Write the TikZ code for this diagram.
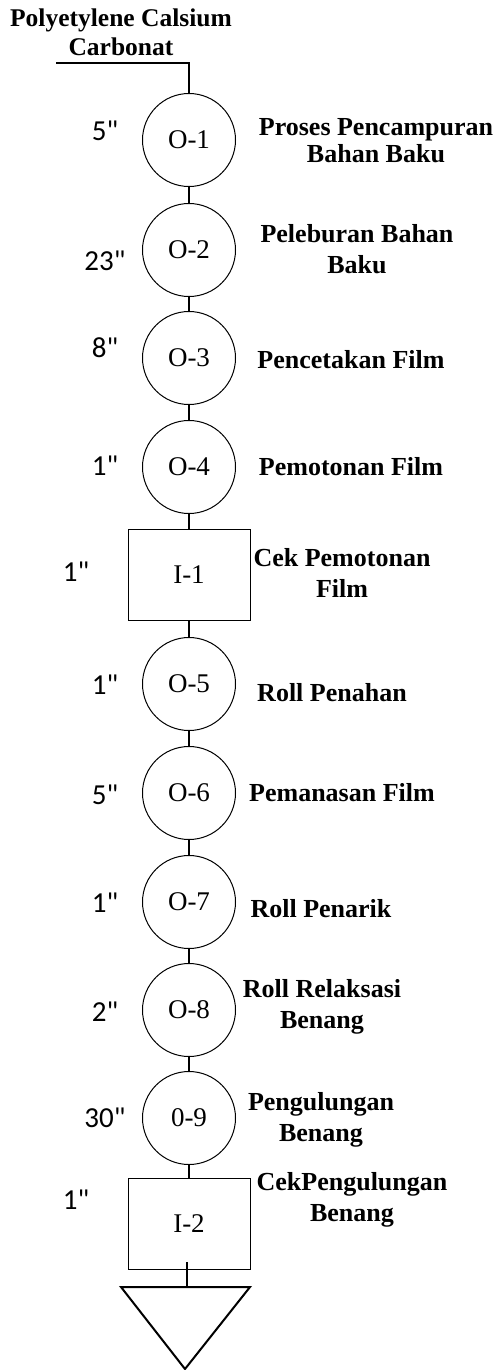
\documentclass[tikz,border=0pt]{standalone}
\usepackage{fontspec}
\setmainfont{Liberation Serif}
\newfontfamily\timefont{Carlito}
\usetikzlibrary{positioning}

\tikzset{
  opr/.style={draw,circle,line width=1pt,minimum size=93pt,inner sep=0pt,font=\fontsize{27}{30}\selectfont},
  insp/.style={draw,rectangle,line width=1pt,minimum width=122pt,minimum height=91pt,inner sep=0pt,font=\fontsize{27}{30}\selectfont},
  desc/.style={align=center,inner sep=0pt,font=\bfseries\fontsize{26}{31}\selectfont},
  tm/.style={inner sep=0pt,font=\timefont\fontsize{29}{32}\selectfont},
  flow/.style={line width=1.3pt}
}

\begin{document}
\begin{tikzpicture}[x=1pt,y=-1pt]
\useasboundingbox (0,0) rectangle (497,1370);
% raw material
\node[desc,font=\bfseries\fontsize{25.5}{29}\selectfont] (src) at (121,32) {Polyetylene Calsium\\Carbonat};
\coordinate (feed) at (56,63);

% operations and inspections
\node[opr] (o1) at (189,140) {O-1};
\node[opr] (o2) at (189,250) {O-2};
\node[opr] (o3) at (189,358) {O-3};
\node[opr] (o4) at (189,467) {O-4};
\node[insp] (i1) at (189,575) {I-1};
\node[opr] (o5) at (189,684) {O-5};
\node[opr] (o6) at (189,793) {O-6};
\node[opr] (o7) at (189,902) {O-7};
\node[opr] (o8) at (189,1010) {O-8};
\node[opr] (o9) at (189,1118) {0-9};
\node[insp] (i2) at (189,1224) {I-2};
\coordinate (store) at (187,1287);

% times
\node[tm] (t1) at (105,131) {5"};
\node[tm] (t2) at (105,261) {23"};
\node[tm] (t3) at (105,348) {8"};
\node[tm] (t4) at (105,466) {1"};
\node[tm] (t5) at (76,572) {1"};
\node[tm] (t6) at (105,685) {1"};
\node[tm] (t7) at (105,795) {5"};
\node[tm] (t8) at (105,903) {1"};
\node[tm] (t9) at (105,1012) {2"};
\node[tm] (t10) at (105,1118) {30"};
\node[tm] (t11) at (76,1200) {1"};

% descriptions
\node[desc,font=\bfseries\fontsize{26}{27}\selectfont] (d1) at (376,141) {Proses Pencampuran\\Bahan Baku};
\node[desc] (d2) at (357,249) {Peleburan Bahan\\Baku};
\node[desc] (d3) at (351,360) {Pencetakan Film};
\node[desc] (d4) at (351,467) {Pemotonan Film};
\node[desc] (d5) at (342,573) {Cek Pemotonan\\Film};
\node[desc] (d6) at (332,693) {Roll Penahan};
\node[desc] (d7) at (342,793) {Pemanasan Film};
\node[desc] (d8) at (321,909) {Roll Penarik};
\node[desc] (d9) at (322,1007) {Roll Relaksasi\\Benang};
\node[desc] (d10) at (321,1120) {Pengulungan\\Benang};
\node[desc] (d11) at (352,1200) {CekPengulungan\\Benang};

% flow lines
\draw[flow] (feed) -| (o1.north);
\foreach \a/\b in {o1/o2,o2/o3,o3/o4,o4/i1,i1/o5,o5/o6,o6/o7,o7/o8,o8/o9,o9/i2}
  \draw[flow] (\a) -- (\b);
\draw[line width=2pt] ([xshift=-2pt,yshift=8pt]i2.south) -- (store);

% storage
\draw[line width=2pt,line join=miter] (121,1287) -- (250,1287) -- (185,1369) -- cycle;
\end{tikzpicture}
\end{document}
